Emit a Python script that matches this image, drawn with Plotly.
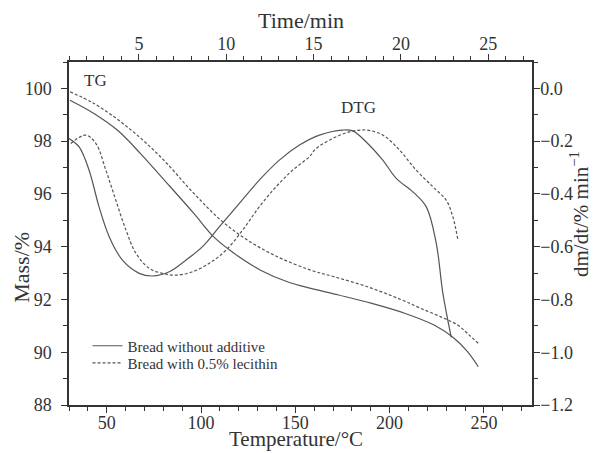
import plotly.graph_objects as go

# TG data (temperature axis, left mass axis)
tg_temp_plain = [30.5, 43.2, 55.6, 67.9, 82.1, 96.2, 106.9, 117.5, 131.6, 145.8, 158.2,
                 172.9, 190.6, 208.3, 223.6, 234.2, 241.3, 247.0]
tg_mass_plain = [99.55, 99.05, 98.42, 97.53, 96.40, 95.26, 94.36, 93.75, 93.11, 92.67, 92.42,
                 92.17, 91.85, 91.47, 91.03, 90.53, 90.02, 89.45]

tg_temp_lec = [30.5, 43.2, 60.9, 78.6, 96.2, 110.4, 124.6, 140.5, 158.2, 170.6, 188.3,
               205.9, 216.6, 227.2, 236.1, 242.2, 247.0]
tg_mass_lec = [99.87, 99.43, 98.54, 97.40, 96.02, 95.01, 94.25, 93.62, 93.11, 92.86, 92.48,
               92.00, 91.66, 91.34, 91.03, 90.65, 90.34]

# DTG data (time axis, right dm/dt axis)
dtg_time_plain = [1.0, 1.58, 2.15, 2.72, 3.30, 4.06, 5.02, 5.78, 6.74, 7.69, 8.64, 9.60,
                  10.75, 11.89, 13.04, 14.19, 15.33, 16.67, 17.24, 18.01, 18.96, 19.73,
                  20.68, 21.45, 22.02, 22.40, 22.88]
dtg_rate_plain = [-0.190, -0.222, -0.310, -0.449, -0.562, -0.651, -0.701, -0.711, -0.695,
                  -0.651, -0.600, -0.525, -0.436, -0.348, -0.272, -0.215, -0.177, -0.158,
                  -0.161, -0.203, -0.272, -0.341, -0.392, -0.449, -0.587, -0.777, -0.944]

dtg_time_lec = [1.10, 1.96, 2.54, 3.11, 3.68, 4.26, 4.83, 5.59, 6.35, 7.12, 8.07, 9.03,
                9.99, 10.94, 11.89, 12.85, 13.80, 14.76, 15.14, 16.09, 17.05, 18.01, 18.96,
                19.92, 20.87, 21.83, 22.59, 22.97, 23.26]
dtg_rate_lec = [-0.209, -0.177, -0.209, -0.310, -0.424, -0.537, -0.625, -0.682, -0.701,
                -0.708, -0.695, -0.663, -0.613, -0.537, -0.449, -0.373, -0.310, -0.259,
                -0.228, -0.190, -0.165, -0.158, -0.177, -0.234, -0.310, -0.373, -0.424,
                -0.487, -0.575]

names = ["Bread without additive", "Bread with 0.5% lecithin"]

LINE = "#555555"
TXT = "#333333"
FONT = "Liberation Serif"

fig = go.Figure()
fig.add_trace(go.Scatter(x=tg_temp_plain, y=tg_mass_plain, mode="lines", name=names[0],
                         line=dict(color=LINE, width=1.2, shape="spline"),
                         xaxis="x", yaxis="y", legend="legend"))
fig.add_trace(go.Scatter(x=tg_temp_lec, y=tg_mass_lec, mode="lines", name=names[1],
                         line=dict(color=LINE, width=1.2, dash="3px,2px", shape="spline"),
                         xaxis="x", yaxis="y", legend="legend2"))
fig.add_trace(go.Scatter(x=dtg_time_plain, y=dtg_rate_plain, mode="lines", showlegend=False,
                         line=dict(color=LINE, width=1.2, shape="spline"),
                         xaxis="x2", yaxis="y2"))
fig.add_trace(go.Scatter(x=dtg_time_lec, y=dtg_rate_lec, mode="lines", showlegend=False,
                         line=dict(color=LINE, width=1.2, dash="3px,2px", shape="spline"),
                         xaxis="x2", yaxis="y2"))

axis_common = dict(showline=True, linecolor="#333333", linewidth=1.5, ticks="outside",
                   ticklen=6, tickwidth=1.3, tickcolor="#333333", showgrid=False,
                   zeroline=False, tickfont=dict(family=FONT, size=18, color=TXT))
minor = lambda d: dict(dtick=d, ticks="outside", ticklen=4, tickwidth=1.2,
                       tickcolor="#333333", showgrid=False)

legend_common = dict(xanchor="left", yanchor="middle", bgcolor="rgba(0,0,0,0)",
                     font=dict(family=FONT, size=15, color=TXT), itemwidth=30)

fig.update_layout(
    width=602, height=453,
    margin=dict(l=69, r=70, t=62, b=48),
    paper_bgcolor="white", plot_bgcolor="white",
    font=dict(family=FONT, color=TXT),
    xaxis=dict(range=[30, 275.5], tick0=50, dtick=50, minor=minor(10),
               ticklabelstandoff=-5, **axis_common),
    xaxis2=dict(range=[1.0, 27.5], tick0=5, dtick=5, minor=minor(1), overlaying="x",
                side="top", anchor="y", ticklabelstandoff=-3, **axis_common),
    yaxis=dict(range=[88, 101], tick0=88, dtick=2, minor=minor(1),
               ticklabelstandoff=6, **axis_common),
    yaxis2=dict(range=[-1.2, 0.1], tick0=-1.2, dtick=0.2, minor=minor(0.1), overlaying="y",
                side="right", anchor="x", tickformat=".1f", ticklabelstandoff=-3,
                **axis_common),
    legend=dict(x=0.04, y=0.172, **legend_common),
    legend2=dict(x=0.04, y=0.122, **legend_common),
    showlegend=True,
)

title_font = dict(family=FONT, size=22, color=TXT)
fig.add_annotation(text="Time/min", x=0.501, y=1.122, xref="paper", yref="paper",
                   showarrow=False, font=title_font, xanchor="center", yanchor="middle")
fig.add_annotation(text="Temperature/°C", x=0.49, y=-0.10, xref="paper", yref="paper",
                   showarrow=False, font=dict(family=FONT, size=21, color=TXT),
                   xanchor="center", yanchor="middle")
fig.add_annotation(text="Mass/%", x=-0.1015, y=0.40, xref="paper", yref="paper",
                   showarrow=False, font=title_font, textangle=-90,
                   xanchor="center", yanchor="middle")
fig.add_annotation(text="dm/dt/% min<sup>−1</sup>", x=1.103, y=0.556, xref="paper",
                   yref="paper", showarrow=False, font=dict(family=FONT, size=21, color=TXT),
                   textangle=-90, xanchor="center", yanchor="middle")

fig.add_annotation(text="TG", x=30, y=100.75, xref="x", yref="y", xanchor="left",
                   xshift=13, yanchor="top", showarrow=False,
                   font=dict(family=FONT, size=17, color=TXT))
fig.add_annotation(text="DTG", x=17.55, y=-0.072, xref="x2", yref="y2", showarrow=False,
                   font=dict(family=FONT, size=17, color=TXT))

fig.write_html("out.html", config={"displayModeBar": False},
               post_script="document.body.style.margin='0';")
